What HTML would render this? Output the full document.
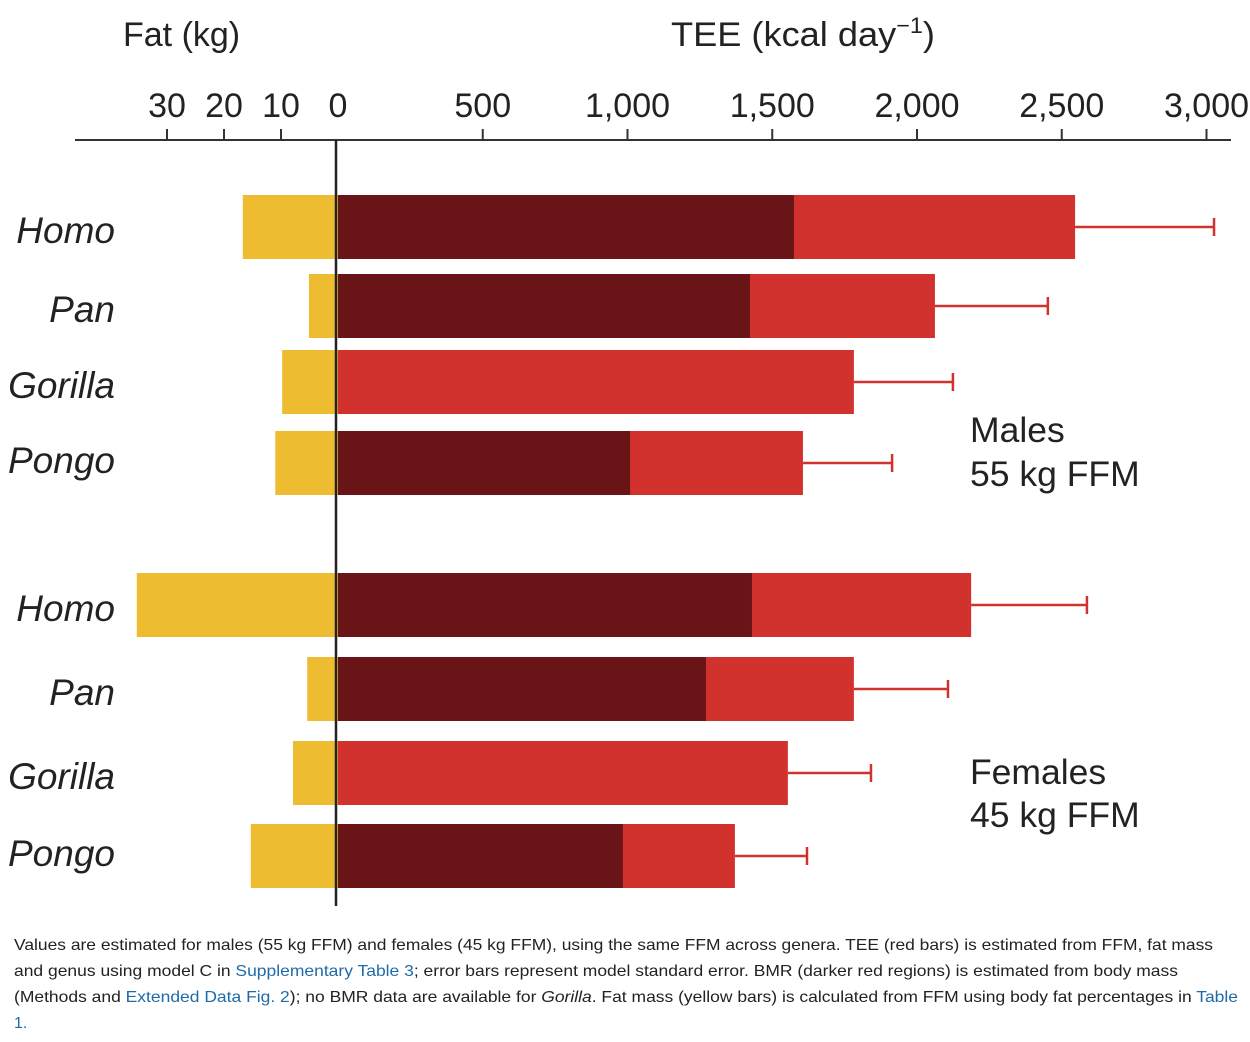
<!DOCTYPE html>
<html><head><meta charset="utf-8"><style>
body{margin:0;background:#fff;}
svg{display:block;font-family:"Liberation Sans",Arial,sans-serif;}
</style></head><body>
<svg id="chart" width="1250" height="1042" viewBox="0 0 1250 1042">
<rect x="0" y="0" width="1250" height="1042" fill="#fff"/>
<g id="axes"></g>
<g id="bars"></g>
<text x="123" y="46" font-size="34" fill="#222">Fat (kg)</text>
<text x="671" y="46" font-size="34" fill="#222" textLength="264" lengthAdjust="spacingAndGlyphs">TEE (kcal day<tspan dy="-13" font-size="22">−1</tspan><tspan dy="13">)</tspan></text>
<text x="970" y="442" font-size="35.5" fill="#222">Males</text>
<text x="970" y="486" font-size="35.5" fill="#222">55 kg FFM</text>
<text x="970" y="784" font-size="35.5" fill="#222">Females</text>
<text x="970" y="827" font-size="35.5" fill="#222">45 kg FFM</text>
<g font-size="16" fill="#222">
<text x="14" y="950" textLength="1199" lengthAdjust="spacingAndGlyphs">Values are estimated for males (55 kg FFM) and females (45 kg FFM), using the same FFM across genera. TEE (red bars) is estimated from FFM, fat mass</text>
<text x="14" y="976" textLength="1164" lengthAdjust="spacingAndGlyphs">and genus using model C in <tspan fill="#1f6aa8">Supplementary Table 3</tspan>; error bars represent model standard error. BMR (darker red regions) is estimated from body mass</text>
<text x="14" y="1002" textLength="1224" lengthAdjust="spacingAndGlyphs">(Methods and <tspan fill="#1f6aa8">Extended Data Fig. 2</tspan>); no BMR data are available for <tspan font-style="italic">Gorilla</tspan>. Fat mass (yellow bars) is calculated from FFM using body fat percentages in <tspan fill="#1f6aa8">Table</tspan></text>
<text x="14" y="1028" fill="#1f6aa8">1.</text>
</g>
</svg>
<script>
const genera = ["Homo","Pan","Gorilla","Pongo","Homo","Pan","Gorilla","Pongo"];
const fatKg = [16.7,5.1,9.8,11,35.3,5.4,7.9,15.3];
const bmr = [1575,1423,null,1009,1430,1271,null,984];
const tee = [2546,2062,1782,1606,2187,1782,1554,1371];
const teeErr = [480,390,342,308,400,325,287,249];
const teeTicks = [500,1000,1500,2000,2500,3000];
const teeTickLabels = ["500","1,000","1,500","2,000","2,500","3,000"];
const fatTicks = [30,20,10,0];
const fatTickLabels = ["30","20","10","0"];
const barTops = [195,274,350,431,573,657,741,824];

const X0 = 338;
const xTee = v => X0 + v*0.2895;
const xFat = v => X0 - v*5.7;
const barH = 64;
const NS = "http://www.w3.org/2000/svg";
function mk(tag, attrs, parent){const e=document.createElementNS(NS,tag);for(const k in attrs)e.setAttribute(k,attrs[k]);parent.appendChild(e);return e;}
const axes = document.getElementById('axes');
const bars = document.getElementById('bars');

let l = mk('line',{x1:75,y1:140,x2:1231,y2:140,stroke:'#333','stroke-width':2},axes);


teeTicks.forEach((t,i)=>{
  const x = xTee(t);
  const tk = mk('line',{x1:x,y1:129,x2:x,y2:140,stroke:'#333','stroke-width':2},axes);
  
  
  const tx = mk('text',{x:x,y:117,'font-size':34,'text-anchor':'middle',fill:'#222'},axes);
  tx.textContent = teeTickLabels[i];
  
  
});
fatTicks.forEach((t,i)=>{
  const x = xFat(t);
  if(t!==0){
    const tk = mk('line',{x1:x,y1:129,x2:x,y2:140,stroke:'#333','stroke-width':2},axes);
    
    
  }
  const tx = mk('text',{x:x,y:117,'font-size':34,'text-anchor':'middle',fill:'#222'},axes);
  tx.textContent = fatTickLabels[i];
  
  
});

genera.forEach((g,i)=>{
  const y = barTops[i];
  const f = mk('rect',{x:xFat(fatKg[i]),y:y,width:X0-xFat(fatKg[i]),height:barH,fill:'#EDBC30'},bars);
  
  
  const t = mk('rect',{x:X0,y:y,width:xTee(tee[i])-X0,height:barH,fill:'#D2322D'},bars);
  
  
  if(bmr[i]!==null){
    const b = mk('rect',{x:X0,y:y,width:xTee(bmr[i])-X0,height:barH,fill:'#691517'},bars);
    
    
  }
  const cy = y+barH/2;
  const x1 = xTee(tee[i]), x2 = xTee(tee[i]+teeErr[i]);
  const e = mk('line',{x1:x1,y1:cy,x2:x2,y2:cy,stroke:'#D2322D','stroke-width':2.5},bars);
  
  
  const c = mk('line',{x1:x2,y1:cy-9,x2:x2,y2:cy+9,stroke:'#D2322D','stroke-width':2.5},bars);
  
  
  const off = g==="Pongo" ? 10 : 16;
  const lb = mk('text',{x:115,y:cy+off,'font-size':37,'font-style':'italic','text-anchor':'end',fill:'#222'},bars);
  lb.textContent = g;
  
  
});
const v = mk('line',{x1:X0-2,y1:140,x2:X0-2,y2:906,stroke:'#222','stroke-width':2.5},bars);


</script>
</body></html>
